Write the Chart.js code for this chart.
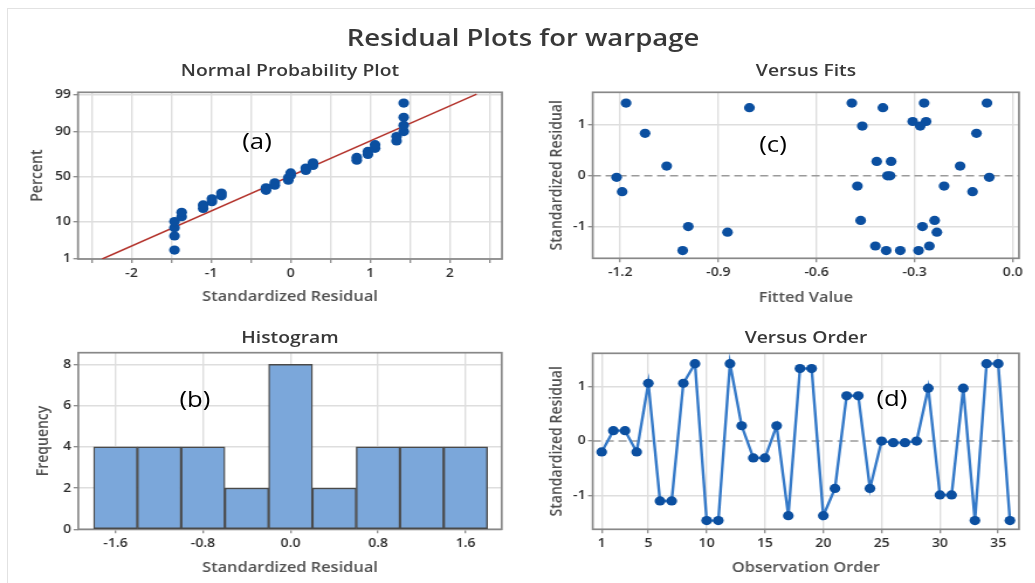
<!DOCTYPE html>
<html>
<head>
<meta charset="utf-8">
<title>Residual Plots for warpage</title>
<script src="https://cdn.jsdelivr.net/npm/chart.js@4.4.1/dist/chart.umd.min.js"></script>
<style>
  html, body { margin: 0; padding: 0; background: #fff; }
  body { width: 1035px; height: 583px; overflow: hidden; position: relative; font-family: "Open Sans", sans-serif; }
  #sheet { position: absolute; left: 0; top: 0; height: 583px; transform-origin: 0 0; }
  #sheet canvas { position: absolute; }
  .txt { position: absolute; white-space: nowrap; transform: translate(-50%, -50%); line-height: 1; }
  .main-title { font-size: 23.5px; font-weight: 600; color: #383838; }
  .panel-title { font-size: 16.5px; font-weight: 600; color: #383838; }
  .tag { font-size: 22px; font-weight: 400; color: #000; }
  #edge { position: absolute; left: 7px; top: 8px; right: 0; bottom: 0; border-left: 1px solid #e2e2e2; border-top: 1px solid #e2e2e2; }
</style>
</head>
<body>
<div id="edge"></div>
<div id="sheet"></div>
<script>
// the whole sheet is drawn narrow and stretched sideways
const STRETCH = 1.17;
const SHEET_W = 1035 / STRETCH;
const COL_W = Math.floor(SHEET_W / 2);

// standardized residuals and fitted values, in observation order
const residuals = [-0.2, 0.19, 0.19, -0.2, 1.06, -1.1, -1.1, 1.06, 1.42, -1.46, -1.46, 1.42,
  0.28, -0.31, -0.31, 0.28, -1.37, 1.33, 1.33, -1.37, -0.87, 0.83, 0.83, -0.87,
  0.0, -0.03, -0.03, 0.0, 0.97, -0.99, -0.99, 0.97, -1.46, 1.42, 1.42, -1.46];
const fittedValues = [-0.475, -1.058, -0.161, -0.210, -0.306, -0.872, -0.232, -0.265, -1.182, -1.009, -0.387, -0.492,
  -0.416, -1.194, -0.123, -0.372, -0.420, -0.805, -0.397, -0.255, -0.465, -1.124, -0.111, -0.239,
  -0.383, -1.211, -0.072, -0.375, -0.460, -0.992, -0.276, -0.283, -0.344, -0.271, -0.079, -0.288];
const orderTicks = [1, 5, 10, 15, 20, 25, 30, 35];

// probability plot positions (percent) of the sorted residuals
const npPercents = [1.9, 4.7, 7.4, 10.2, 12.9, 15.7, 18.4, 21.2, 23.9, 26.6, 29.4, 32.1,
  34.9, 37.6, 40.4, 43.1, 45.9, 48.6, 51.4, 54.1, 56.9, 59.6, 62.4, 65.1,
  67.9, 70.6, 73.4, 76.1, 78.8, 81.6, 84.3, 87.1, 89.8, 92.6, 95.3, 98.1];
const percentTicks = [1, 10, 50, 90, 99];

// histogram bins
const binCenters = [-1.6, -1.2, -0.8, -0.4, 0.0, 0.4, 0.8, 1.2, 1.6];
const binCounts = [4, 4, 4, 2, 8, 2, 4, 4, 4];

const FONT = '"Open Sans", "DejaVu Sans", sans-serif';
const INK = '#2e2e2e', LABEL = '#505050', GRID = '#dedede', TICK = '#8a8a8a', FRAME = '#888888';
const DOT = '#0b4fa0';

const sheet = document.getElementById('sheet');
sheet.style.width = SHEET_W + 'px';
sheet.style.transform = 'scaleX(' + STRETCH + ')';

// inverse of the standard normal CDF (Acklam)
function probit(p) {
  const a = [-3.969683028665376e+01, 2.209460984245205e+02, -2.759285104469687e+02, 1.383577518672690e+02, -3.066479806614716e+01, 2.506628277459239e+00];
  const b = [-5.447609879822406e+01, 1.615858368580409e+02, -1.556989798598866e+02, 6.680131188771972e+01, -1.328068155288572e+01];
  const c = [-7.784894002430293e-03, -3.223964580411365e-01, -2.400758277161838e+00, -2.549732539343734e+00, 4.374664141464968e+00, 2.938163982698783e+00];
  const d = [7.784695709041462e-03, 3.224671290700398e-01, 2.445134137142996e+00, 3.754408661907416e+00];
  const tail = q => (((((c[0] * q + c[1]) * q + c[2]) * q + c[3]) * q + c[4]) * q + c[5]) / ((((d[0] * q + d[1]) * q + d[2]) * q + d[3]) * q + 1);
  if (p < 0.02425) return tail(Math.sqrt(-2 * Math.log(p)));
  if (p > 1 - 0.02425) return -tail(Math.sqrt(-2 * Math.log(1 - p)));
  const q = p - 0.5, r = q * q;
  return (((((a[0] * r + a[1]) * r + a[2]) * r + a[3]) * r + a[4]) * r + a[5]) * q /
    (((((b[0] * r + b[1]) * r + b[2]) * r + b[3]) * r + b[4]) * r + 1);
}

function addText(text, cls, x, y) {
  const el = document.createElement('div');
  el.className = 'txt ' + cls;
  el.textContent = text;
  el.style.left = (x / STRETCH) + 'px';
  el.style.top = y + 'px';
  sheet.appendChild(el);
}

// box around the plot area plus an optional dashed reference line
const framePlugin = {
  id: 'frame',
  beforeDatasetsDraw(chart, args, opts) {
    const { ctx, chartArea: a } = chart;
    ctx.save();
    if (opts.refY !== undefined) {
      const y = chart.scales.y.getPixelForValue(opts.refY);
      ctx.strokeStyle = '#9a9a9a';
      ctx.lineWidth = 1.5;
      ctx.setLineDash([7, 4]);
      ctx.beginPath();
      ctx.moveTo(a.left, y);
      ctx.lineTo(a.right, y);
      ctx.stroke();
      ctx.setLineDash([]);
    }
    ctx.strokeStyle = FRAME;
    ctx.lineWidth = 1.7;
    ctx.strokeRect(a.left, a.top, a.right - a.left, a.bottom - a.top);
    ctx.restore();
  }
};

function axis(title, titleGap, isX, size) {
  return {
    type: 'linear',
    offset: false,
    grid: { color: GRID, lineWidth: 1.4, tickLength: 4, tickColor: TICK, tickWidth: 1.3, offset: false },
    border: { display: false },
    ticks: {
      font: { family: FONT, size: 12, weight: '600' }, color: INK,
      padding: isX ? 3 : 2, maxRotation: 0, autoSkip: false, includeBounds: false
    },
    title: {
      display: true, text: title, color: LABEL,
      font: { family: FONT, size: 14, weight: '600' },
      padding: isX ? { top: 0, bottom: titleGap } : { top: titleGap, bottom: 0 }
    },
    afterFit(scale) {
      if (isX) scale.height = size; else scale.width = size;
    }
  };
}

// spec positions are page pixels; x positions get divided by the stretch
function buildPanel(spec) {
  const left = spec.col * COL_W;
  const canvas = document.createElement('canvas');
  canvas.width = COL_W;
  canvas.height = spec.bottom - spec.top;
  canvas.style.left = left + 'px';
  canvas.style.top = spec.top + 'px';
  sheet.appendChild(canvas);

  const a = spec.area;
  const lh = 14 * 1.2;
  const x = axis(spec.xTitle, spec.bottom - spec.xTitleY - lh / 2, true, spec.bottom - a.b);
  const y = axis(spec.yTitle, spec.yTitleX / STRETCH - left - lh / 2, false, a.l / STRETCH - left);
  spec.tuneX(x);
  spec.tuneY(y);

  return new Chart(canvas, {
    type: spec.type,
    data: { datasets: spec.datasets },
    options: {
      responsive: false,
      animation: false,
      events: [],
      layout: { padding: { top: a.t - spec.top, right: left + COL_W - a.r / STRETCH, left: 0, bottom: 0 } },
      plugins: { legend: { display: false }, tooltip: { enabled: false }, frame: { refY: spec.refY } },
      scales: { x, y }
    },
    plugins: [framePlugin]
  });
}

const hideZeroGrid = c => (c.tick && c.tick.value === 0 ? 'rgba(0,0,0,0)' : GRID);

// normal probability plot
const sortedRes = residuals.slice().sort((p, q) => p - q);
const mean = residuals.reduce((s, v) => s + v, 0) / residuals.length;
const sd = Math.sqrt(residuals.reduce((s, v) => s + (v - mean) * (v - mean), 0) / (residuals.length - 1));
const zLo = probit(percentTicks[0] / 100);
const zHi = probit(percentTicks[percentTicks.length - 1] / 100);

buildPanel({
  col: 0, top: 80, bottom: 310, type: 'scatter',
  area: { l: 78, t: 92.3, r: 502, b: 259 },
  xTitle: 'Standardized Residual', xTitleY: 297,
  yTitle: 'Percent', yTitleX: 38,
  tuneX(x) {
    x.min = -2.672; x.max = 2.655;
    x.ticks.stepSize = 0.5;
    x.ticks.callback = v => (Number.isInteger(v) ? String(v) : '');
  },
  tuneY(y) {
    y.min = zLo; y.max = 2.38;
    y.afterBuildTicks = s => { s.ticks = percentTicks.map(p => ({ value: probit(p / 100) })); };
    y.ticks.callback = (v, i) => String(percentTicks[i]);
  },
  datasets: [
    {
      data: sortedRes.map((r, i) => ({ x: r, y: probit(npPercents[i] / 100) })),
      pointRadius: 4.6, pointBackgroundColor: DOT, pointBorderWidth: 0, order: 0
    },
    {
      type: 'line',
      data: [{ x: mean + sd * zLo, y: zLo }, { x: mean + sd * zHi, y: zHi }],
      borderColor: '#b3322b', borderWidth: 1.5, pointRadius: 0, order: 1
    }
  ]
});

// residuals versus fitted values
buildPanel({
  col: 1, top: 80, bottom: 310, type: 'scatter', refY: 0,
  area: { l: 592.7, t: 92.3, r: 1019, b: 258.3 },
  xTitle: 'Fitted Value', xTitleY: 298,
  yTitle: 'Standardized Residual', yTitleX: 557,
  tuneX(x) {
    x.min = -1.284; x.max = 0.019;
    x.ticks.stepSize = 0.3;
    x.ticks.callback = v => v.toFixed(1);
  },
  tuneY(y) {
    y.min = -1.61; y.max = 1.63;
    y.ticks.stepSize = 1;
    y.grid.color = hideZeroGrid;
  },
  datasets: [{
    data: fittedValues.map((f, i) => ({ x: f, y: residuals[i] })),
    pointRadius: 4.6, pointBackgroundColor: DOT, pointBorderWidth: 0
  }]
});

// histogram of the residuals
buildPanel({
  col: 0, top: 340, bottom: 580, type: 'bar',
  area: { l: 78.3, t: 352.7, r: 501.7, b: 529.3 },
  xTitle: 'Standardized Residual', xTitleY: 568,
  yTitle: 'Frequency', yTitleX: 43,
  tuneX(x) {
    x.min = -1.94; x.max = 1.93;
    x.ticks.stepSize = 0.8;
    x.ticks.callback = v => v.toFixed(1);
  },
  tuneY(y) {
    y.min = 0; y.max = 8.57;
    y.ticks.stepSize = 2;
  },
  datasets: [{
    data: binCenters.map((c, i) => ({ x: c, y: binCounts[i] })),
    backgroundColor: '#7ba7da', borderColor: '#4a4a4a', borderWidth: 1.4,
    borderSkipped: false, barPercentage: 1, categoryPercentage: 1
  }]
});

// residuals versus observation order
buildPanel({
  col: 1, top: 340, bottom: 580, type: 'line', refY: 0,
  area: { l: 592.7, t: 353.3, r: 1019, b: 529.3 },
  xTitle: 'Observation Order', xTitleY: 568,
  yTitle: 'Standardized Residual', yTitleX: 557,
  tuneX(x) {
    x.min = 0.23; x.max = 36.78;
    x.afterBuildTicks = s => { s.ticks = orderTicks.map(v => ({ value: v })); };
  },
  tuneY(y) {
    y.min = -1.62; y.max = 1.61;
    y.ticks.stepSize = 1;
    y.grid.color = hideZeroGrid;
  },
  datasets: [{
    data: residuals.map((r, i) => ({ x: i + 1, y: r })),
    borderColor: '#3479c8', borderWidth: 2.4, tension: 0,
    pointRadius: 4.6, pointBackgroundColor: DOT, pointBorderWidth: 0
  }]
});

addText('Residual Plots for warpage', 'main-title', 523, 38);
addText('Normal Probability Plot', 'panel-title', 290, 70);
addText('Versus Fits', 'panel-title', 806, 70);
addText('Histogram', 'panel-title', 290, 337);
addText('Versus Order', 'panel-title', 806, 337);
addText('(a)', 'tag', 257, 140);
addText('(b)', 'tag', 195, 398);
addText('(c)', 'tag', 773, 143);
addText('(d)', 'tag', 892, 397);
</script>
</body>
</html>
